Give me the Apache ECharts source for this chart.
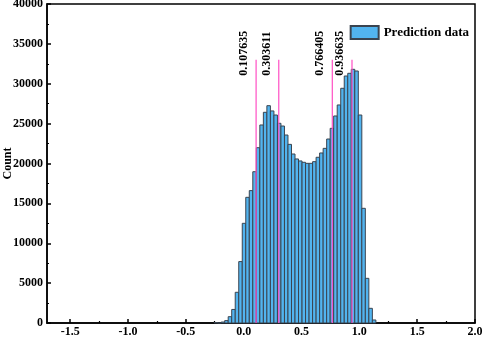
<!DOCTYPE html>
<html>
<head>
<meta charset="utf-8">
<script src="https://cdn.jsdelivr.net/npm/echarts@6/dist/echarts.min.js"></script>
<style>
  html, body { margin: 0; padding: 0; background: #fff; }
  #chart { width: 484px; height: 338px; }
</style>
</head>
<body>
<div id="chart"></div>
<script>
// histogram bins (left edge of first bin, width of each bin)
const binStart = -0.2552
const binWidth = 0.0304
const counts = [
  60, 0, 120, 300, 790, 1700, 3850, 7700, 12500, 15760, 16600, 18970,
  21980, 24830, 26420, 27250, 26590, 26080, 25040, 24700, 23570, 22400,
  21190, 20570, 20320, 20150, 20020, 20020, 20230, 20780, 21320, 21900,
  23070, 24410, 25960, 27340, 29430, 30970, 31310, 31810, 31600, 26080,
  14380, 5600, 1840, 380
]
const splitValues = [0.107635, 0.303611, 0.766405, 0.936635]
const xMajorTicks = [-1.5, -1.0, -0.5, 0.0, 0.5, 1.0, 1.5, 2.0]
const xMinorTicks = [-1.25, -0.75, -0.25, 0.25, 0.75, 1.25, 1.75]
const seriesName = 'Prediction data'

const font = 'Liberation Serif'
const barColor = '#52B4EF'
const pink = '#FF4FC4'

const histData = counts.map((c, i) => [binStart + i * binWidth, binStart + (i + 1) * binWidth, c])

const chart = echarts.init(document.getElementById('chart'))

const option = {
  animation: false,
  grid: {
    left: 47, right: 9, top: 4, bottom: 15,
    outerBoundsMode: 'none', containLabel: false,
    show: true, borderColor: '#000', borderWidth: 1.5
  },
  legend: {
    data: [{ name: seriesName, icon: 'rect' }],
    right: 10, top: 20,
    itemWidth: 28, itemHeight: 13, itemGap: 6,
    textStyle: { fontFamily: font, fontWeight: 'bold', fontSize: 13, color: '#000' }
  },
  xAxis: [{
    type: 'value', min: -1.7, max: 2.0,
    splitLine: { show: false },
    axisLine: { onZero: false, lineStyle: { color: '#000', width: 1.5 } },
    axisTick: { inside: true, length: 4, customValues: xMajorTicks, lineStyle: { color: '#000', width: 1.5 } },
    axisLabel: {
      customValues: xMajorTicks, margin: 3,
      formatter: v => v.toFixed(1),
      fontFamily: font, fontWeight: 'bold', fontSize: 12, color: '#000'
    }
  }, {
    type: 'value', min: -1.7, max: 2.0, position: 'bottom',
    splitLine: { show: false },
    axisLine: { show: false, onZero: false },
    axisTick: { inside: true, length: 2, customValues: xMinorTicks, lineStyle: { color: '#000', width: 1.2 } },
    axisLabel: { show: false }
  }],
  yAxis: {
    type: 'value', min: 0, max: 40000, interval: 5000,
    name: 'Count', nameLocation: 'middle', nameGap: 33, nameMoveOverlap: false,
    nameTextStyle: { fontFamily: font, fontWeight: 'bold', fontSize: 12, color: '#000' },
    splitLine: { show: false },
    axisLine: { show: true, onZero: false, lineStyle: { color: '#000', width: 1.5 } },
    axisTick: { inside: true, length: 4, lineStyle: { color: '#000', width: 1.5 } },
    minorTick: { show: true, splitNumber: 2, length: 2, lineStyle: { color: '#000', width: 1.2 } },
    axisLabel: {
      margin: 4, formatter: v => String(v),
      fontFamily: font, fontWeight: 'bold', fontSize: 12, color: '#000'
    }
  },
  series: [{
    name: seriesName,
    type: 'custom',
    itemStyle: { color: barColor, borderColor: '#3A4450', borderWidth: 1 },
    encode: { x: [0, 1], y: 2 },
    data: histData,
    renderItem(params, api) {
      const p0 = api.coord([api.value(0), 0])
      const p1 = api.coord([api.value(1), api.value(2)])
      return {
        type: 'rect',
        shape: { x: p0[0], y: p1[1], width: p1[0] - p0[0], height: p0[1] - p1[1] },
        style: { fill: barColor, stroke: '#3A4450', lineWidth: 1 }
      }
    }
  }, {
    name: 'split',
    type: 'custom',
    encode: { x: 0, y: 1 },
    data: splitValues.map(v => [v, 33000]),
    z: 5,
    renderItem(params, api) {
      const v = api.value(0)
      const base = api.coord([v, 0])
      const top = api.coord([v, api.value(1)])
      return {
        type: 'group',
        children: [{
          type: 'line',
          shape: { x1: base[0], y1: base[1], x2: top[0], y2: top[1] },
          style: { stroke: pink, lineWidth: 1.2 }
        }, {
          type: 'text',
          x: top[0] - 12, y: top[1] + 16,
          rotation: Math.PI / 2,
          style: {
            text: String(v), fill: '#000',
            font: 'bold 12px "Liberation Serif"',
            align: 'left', verticalAlign: 'middle'
          }
        }]
      }
    }
  }]
}

chart.setOption(option)
</script>
</body>
</html>
